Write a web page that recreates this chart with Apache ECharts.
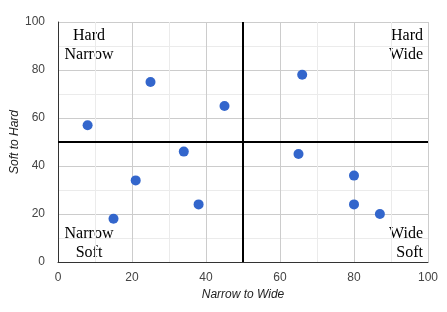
<!DOCTYPE html>
<html><head><meta charset="utf-8">
<script src="https://cdn.jsdelivr.net/npm/echarts@6/dist/echarts.min.js"></script>
<style>html,body{margin:0;padding:0;background:#fff}#c{width:447px;height:312px}</style>
</head><body><div id="c"></div>
<script>
const xValues = [8, 25, 45, 34, 21, 15, 38, 66, 65, 80, 80, 87];
const yValues = [57, 75, 65, 46, 34, 18, 24, 78, 45, 36, 24, 20];
const xAxisName = 'Narrow to Wide';
const yAxisName = 'Soft to Hard';
const quadrantLabels = ['Hard\nNarrow', 'Hard\nWide', 'Narrow\nSoft', 'Wide\nSoft'];

const chart = echarts.init(document.getElementById('c'));
const axisCommon = {
  min: 0, max: 100, interval: 20,
  axisLine: {show: true, lineStyle: {color: '#333', width: 1}},
  axisTick: {show: false},
  axisLabel: {color: '#444', fontSize: 12, fontFamily: 'Arial, Liberation Sans, sans-serif'},
  splitLine: {show: true, lineStyle: {color: '#ccc'}},
  minorTick: {show: false, splitNumber: 2},
  minorSplitLine: {show: true, lineStyle: {color: '#ebebeb'}},
  nameLocation: 'middle',
  nameMoveOverlap: false,
  nameTextStyle: {fontStyle: 'italic', color: '#222', fontSize: 12, fontFamily: 'Arial, Liberation Sans, sans-serif'}
};
const serif = {fontFamily: '"Liberation Serif", "Times New Roman", serif', fontSize: 16, fill: '#000', lineHeight: 19, verticalAlign: 'top'};
chart.setOption({
  animation: false,
  grid: {left: 58, right: 19, top: 22, bottom: 50, containLabel: false, outerBoundsMode: 'none'},
  xAxis: Object.assign({}, axisCommon, {type: 'value', name: xAxisName, nameGap: 27, axisLabel: Object.assign({}, axisCommon.axisLabel, {margin: 10})}),
  yAxis: Object.assign({}, axisCommon, {type: 'value', name: yAxisName, nameGap: 37, axisLabel: Object.assign({}, axisCommon.axisLabel, {margin: 13})}),
  series: [{
    type: 'scatter',
    symbolSize: 10,
    itemStyle: {color: '#3366cc', opacity: 1},
    data: xValues.map((x, i) => [x, yValues[i]]),
    markLine: {
      silent: true, symbol: 'none', label: {show: false},
      lineStyle: {color: '#000', width: 2, type: 'solid'},
      data: [{xAxis: 50}, {yAxis: 50}]
    }
  }],
  graphic: [
    {type: 'text', x: 89, y: 26, style: Object.assign({text: quadrantLabels[0], align: 'center'}, serif)},
    {type: 'text', x: 423, y: 26, style: Object.assign({text: quadrantLabels[1], align: 'right'}, serif)},
    {type: 'text', x: 89, y: 224, style: Object.assign({text: quadrantLabels[2], align: 'center'}, serif)},
    {type: 'text', x: 423, y: 224, style: Object.assign({text: quadrantLabels[3], align: 'right'}, serif)}
  ]
});
</script></body></html>
